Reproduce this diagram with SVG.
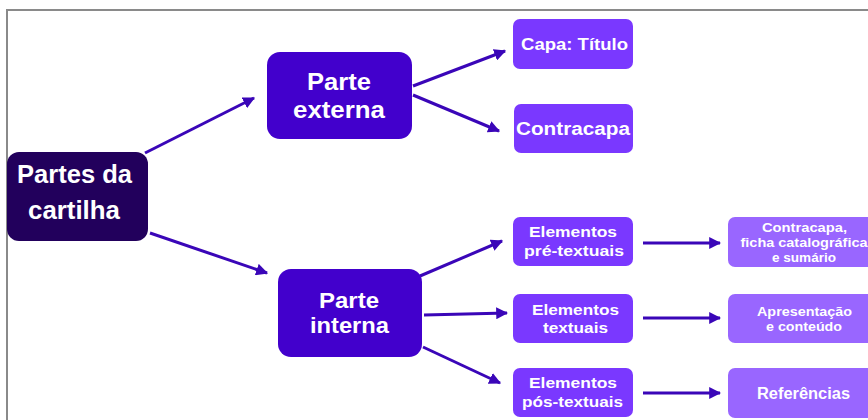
<svg xmlns="http://www.w3.org/2000/svg" width="868" height="420" viewBox="0 0 868 420">
<defs>
<marker id="ah" viewBox="0 0 10 10" refX="9" refY="5" markerWidth="4" markerHeight="4" orient="auto" markerUnits="strokeWidth">
<path d="M0,0 L10,5 L0,10 z" fill="#3a06b8"/>
</marker>
</defs>
<style>
text{font-family:"Liberation Sans",Arial,sans-serif;font-weight:bold;fill:#fff;text-anchor:middle}
.c line{stroke:#3a06b8;stroke-width:3;marker-end:url(#ah)}
</style>
<rect x="0" y="0" width="868" height="420" fill="#fff"/>
<path d="M7,420 V10 H868" fill="none" stroke="#8a8a8a" stroke-width="2"/>
<g class="c">
<line x1="145" y1="153" x2="254" y2="98"/>
<line x1="150" y1="233" x2="267" y2="273"/>
<line x1="413" y1="86" x2="505" y2="51"/>
<line x1="413" y1="95" x2="499" y2="131"/>
<line x1="420" y1="276" x2="502" y2="241"/>
<line x1="424" y1="315" x2="507" y2="313"/>
<line x1="423" y1="347" x2="500" y2="383"/>
<line x1="643" y1="243" x2="720" y2="243"/>
<line x1="643" y1="318" x2="720" y2="318"/>
<line x1="643" y1="393" x2="720" y2="393"/>
</g>
<g id="root">
<rect x="7" y="152" width="141" height="89" rx="12" fill="#22005c"/>
<text x="74.5" y="183" font-size="26" textLength="115" lengthAdjust="spacingAndGlyphs">Partes da</text>
<text x="74" y="219" font-size="26" textLength="92" lengthAdjust="spacingAndGlyphs">cartilha</text>
</g>
<g id="externa">
<rect x="267" y="52" width="145" height="87" rx="13" fill="#4200cc"/>
<text x="339" y="90" font-size="24" textLength="64" lengthAdjust="spacingAndGlyphs">Parte</text>
<text x="339" y="118" font-size="24" textLength="92" lengthAdjust="spacingAndGlyphs">externa</text>
</g>
<g id="interna">
<rect x="278" y="269" width="144" height="88" rx="13" fill="#4200cc"/>
<text x="349" y="308" font-size="22" textLength="60" lengthAdjust="spacingAndGlyphs">Parte</text>
<text x="349.5" y="333" font-size="22" textLength="79" lengthAdjust="spacingAndGlyphs">interna</text>
</g>
<g id="capa">
<rect x="513" y="19" width="120" height="50" rx="7" fill="#7a38ff"/>
<text x="574.5" y="50" font-size="16" textLength="107" lengthAdjust="spacingAndGlyphs">Capa: Título</text>
</g>
<g id="contracapa">
<rect x="514" y="104" width="119" height="49" rx="7" fill="#7a38ff"/>
<text x="573" y="135" font-size="18" textLength="114" lengthAdjust="spacingAndGlyphs">Contracapa</text>
</g>
<g id="pre">
<rect x="513" y="217" width="120" height="49" rx="7" fill="#7a38ff"/>
<text x="573" y="237" font-size="15.5" textLength="88" lengthAdjust="spacingAndGlyphs">Elementos</text>
<text x="574" y="256" font-size="15.5" textLength="100" lengthAdjust="spacingAndGlyphs">pré-textuais</text>
</g>
<g id="textuais">
<rect x="513" y="294" width="120" height="49" rx="7" fill="#7a38ff"/>
<text x="575.5" y="315" font-size="15.5" textLength="87" lengthAdjust="spacingAndGlyphs">Elementos</text>
<text x="575.5" y="333" font-size="15.5" textLength="65" lengthAdjust="spacingAndGlyphs">textuais</text>
</g>
<g id="pos">
<rect x="513" y="368" width="120" height="49" rx="7" fill="#7a38ff"/>
<text x="573" y="388" font-size="15.5" textLength="88" lengthAdjust="spacingAndGlyphs">Elementos</text>
<text x="572.5" y="407" font-size="15.5" textLength="101" lengthAdjust="spacingAndGlyphs">pós-textuais</text>
</g>
<g id="r1">
<rect x="728" y="217" width="150" height="50" rx="7" fill="#9966ff"/>
<text x="804.5" y="232" font-size="12" textLength="85" lengthAdjust="spacingAndGlyphs">Contracapa,</text>
<text x="804" y="247" font-size="12" textLength="127" lengthAdjust="spacingAndGlyphs">ficha catalográfica</text>
<text x="804" y="262" font-size="12" textLength="64" lengthAdjust="spacingAndGlyphs">e sumário</text>
</g>
<g id="r2">
<rect x="728" y="294" width="150" height="49" rx="7" fill="#9966ff"/>
<text x="804.5" y="316" font-size="12" textLength="95" lengthAdjust="spacingAndGlyphs">Apresentação</text>
<text x="804" y="331" font-size="12" textLength="76" lengthAdjust="spacingAndGlyphs">e conteúdo</text>
</g>
<g id="r3">
<rect x="728" y="368" width="150" height="50" rx="7" fill="#9966ff"/>
<text x="803.5" y="399" font-size="16" textLength="93" lengthAdjust="spacingAndGlyphs">Referências</text>
</g>
</svg>
